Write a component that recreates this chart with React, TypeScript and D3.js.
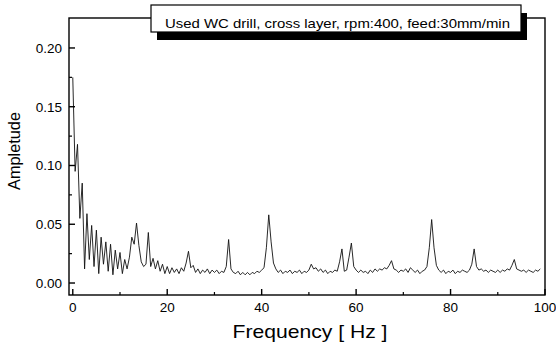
import React from "react";
import * as d3 from "d3";

const STEP = 0.5; // Hz between samples
const amplitudes: number[] = [
  0.175, 0.095, 0.118, 0.055, 0.085, 0.012, 0.059, 0.02, 0.049, 0.014,
  0.045, 0.008, 0.039, 0.016, 0.035, 0.01, 0.033, 0.007, 0.028, 0.012,
  0.026, 0.008, 0.02, 0.012, 0.022, 0.039, 0.033, 0.051, 0.032, 0.018,
  0.014, 0.016, 0.043, 0.014, 0.021, 0.012, 0.019, 0.01, 0.016, 0.008,
  0.014, 0.008, 0.013, 0.009, 0.012, 0.008, 0.013, 0.01, 0.017, 0.027,
  0.013, 0.015, 0.009, 0.012, 0.008, 0.011, 0.009, 0.012, 0.008, 0.011,
  0.009, 0.011, 0.008, 0.01, 0.009, 0.014, 0.037, 0.012, 0.009, 0.008,
  0.01, 0.007, 0.009, 0.007, 0.009, 0.007, 0.009, 0.008, 0.01, 0.009,
  0.011, 0.013, 0.03, 0.058, 0.035, 0.017, 0.012, 0.009, 0.011, 0.008,
  0.01, 0.009, 0.011, 0.008, 0.01, 0.009, 0.011, 0.008, 0.01, 0.009,
  0.011, 0.016, 0.012, 0.013, 0.01, 0.012, 0.009, 0.011, 0.008, 0.01,
  0.009, 0.011, 0.01, 0.018, 0.029, 0.01, 0.011, 0.022, 0.034, 0.014,
  0.011, 0.009, 0.011, 0.009, 0.01, 0.008, 0.011, 0.009, 0.012, 0.01,
  0.012, 0.011, 0.013, 0.012, 0.015, 0.019, 0.012, 0.011, 0.009, 0.011,
  0.01, 0.012, 0.009, 0.013, 0.011, 0.009, 0.011, 0.008, 0.01, 0.011,
  0.014, 0.03, 0.054, 0.03, 0.015, 0.011, 0.009, 0.011, 0.008, 0.01,
  0.009, 0.011, 0.008, 0.01, 0.009, 0.011, 0.01, 0.009, 0.011, 0.016,
  0.029, 0.014, 0.011, 0.012, 0.01, 0.011, 0.009, 0.011, 0.01, 0.009,
  0.011, 0.009, 0.011, 0.01, 0.012, 0.011, 0.015, 0.02, 0.012, 0.011,
  0.01, 0.011, 0.009, 0.011, 0.01, 0.009, 0.011, 0.01, 0.012,
];

const xMajor = [0, 20, 40, 60, 80, 100];
const xMinor = [10, 30, 50, 70, 90];
const yMajor = [0, 0.05, 0.1, 0.15, 0.2];
const yMinor = [0.025, 0.075, 0.125, 0.175];
const legendText = "Used WC drill, cross layer, rpm:400, feed:30mm/min";
const xTitle = "Frequency [ Hz ]";
const yTitle = "Ampletude";

const W = 556;
const H = 349;
const L = 69, R = 545, T = 18, B = 295;

export default function App() {
  const x = d3.scaleLinear().domain([-0.8, 100]).range([L, R]);
  const y = d3.scaleLinear().domain([-0.0102, 0.2255]).range([B, T]);
  const line = d3
    .line<number>()
    .x((_, i) => x(i * STEP))
    .y((d) => y(d));
  const font = "'Liberation Sans', Arial, sans-serif";
  const fmt = d3.format(".2f");
  return (
    <svg
      width={W}
      height={H}
      style={{ position: "absolute", left: 0, top: 0, background: "#fff" }}
      fontFamily={font}
    >
      <rect x={0} y={0} width={W} height={H} fill="#fff" />
      <path d={line(amplitudes) || ""} fill="none" stroke="#111" strokeWidth={0.9} />
      <rect x={L} y={T} width={R - L} height={B - T} fill="none" stroke="#000" strokeWidth={1.4} />
      {xMajor.map((t) => (
        <g key={"xM" + t}>
          <line x1={x(t)} x2={x(t)} y1={B} y2={B - 6} stroke="#000" strokeWidth={1.4} />
          <text x={x(t)} y={312} fontSize={13.5} textAnchor="middle" fill="#000">
            {t}
          </text>
        </g>
      ))}
      {xMinor.map((t) => (
        <line key={"xm" + t} x1={x(t)} x2={x(t)} y1={B} y2={B - 3} stroke="#000" strokeWidth={1.2} />
      ))}
      {yMajor.map((t) => (
        <g key={"yM" + t}>
          <line x1={L} x2={L + 6} y1={y(t)} y2={y(t)} stroke="#000" strokeWidth={1.4} />
          <text x={62} y={y(t) + 5} fontSize={13.5} textAnchor="end" fill="#000">
            {fmt(t)}
          </text>
        </g>
      ))}
      {yMinor.map((t) => (
        <line key={"ym" + t} x1={L} x2={L + 3} y1={y(t)} y2={y(t)} stroke="#000" strokeWidth={1.2} />
      ))}
      <text x={310} y={338} fontSize={19} textAnchor="middle" fill="#000" textLength={155} lengthAdjust="spacingAndGlyphs">
        {xTitle}
      </text>
      <text
        transform={`translate(20,151) rotate(-90)`}
        fontSize={17}
        textAnchor="middle"
        fill="#000"
        textLength={78}
        lengthAdjust="spacingAndGlyphs"
      >
        {yTitle}
      </text>
      <rect x={157} y={13} width={370} height={27} fill="#000" />
      <rect x={151} y={5} width={370} height={27} fill="#fff" stroke="#000" strokeWidth={1.2} />
      <text x={165} y={28} fontSize={13.5} fill="#000" textLength={345} lengthAdjust="spacingAndGlyphs">
        {legendText}
      </text>
    </svg>
  );
}
